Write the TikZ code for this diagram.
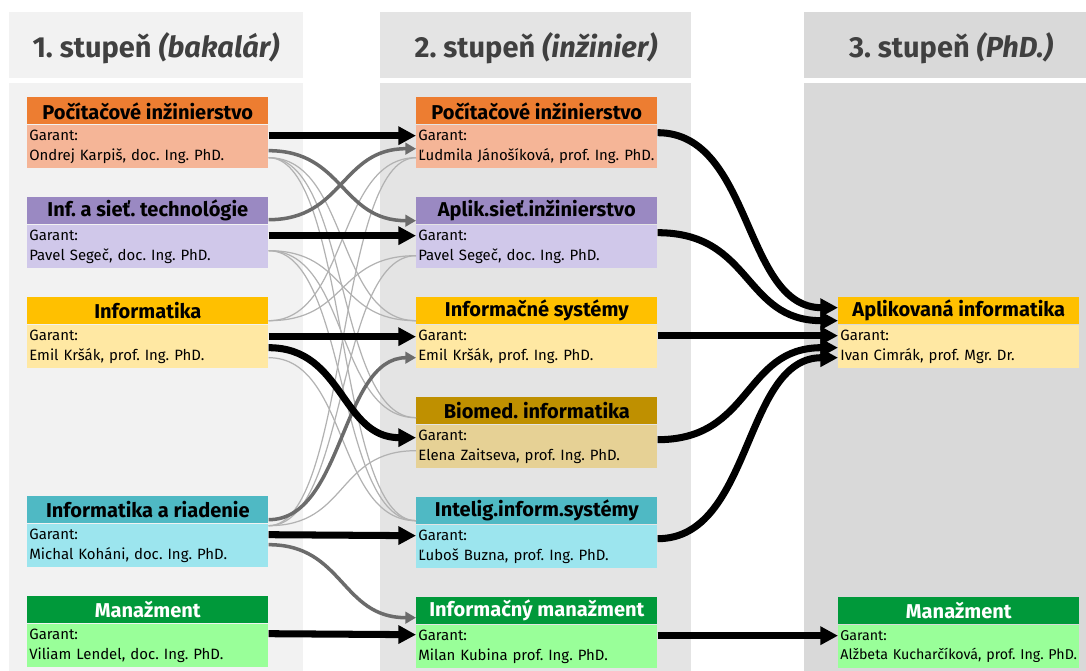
\documentclass[tikz,border=0pt]{standalone}
\usepackage{fontspec}
\setmainfont{Fira Sans}
\frenchspacing
\usetikzlibrary{arrows.meta, positioning, calc}

\definecolor{colA}{HTML}{F2F2F2}
\definecolor{colB}{HTML}{E4E4E4}
\definecolor{colC}{HTML}{D9D9D9}
\definecolor{headgray}{HTML}{404040}
\definecolor{orangeH}{HTML}{ED7D31}
\definecolor{orangeB}{HTML}{F5B597}
\definecolor{purpleH}{HTML}{9A89C2}
\definecolor{purpleB}{HTML}{D0C8EA}
\definecolor{yellowH}{HTML}{FFC000}
\definecolor{yellowB}{HTML}{FFE8A3}
\definecolor{goldH}{HTML}{BF9000}
\definecolor{goldB}{HTML}{E6D195}
\definecolor{tealH}{HTML}{4FB9C4}
\definecolor{tealB}{HTML}{9CE5EE}
\definecolor{greenH}{HTML}{00993A}
\definecolor{greenB}{HTML}{99FF99}

\begin{document}
\begin{tikzpicture}[x=0.02cm, y=-0.02cm,
            colhead/.style={font=\fontsize{16.5}{19}\selectfont\bfseries, text=headgray},
            head/.style={anchor=north west, minimum width=4.82cm, minimum height=0.54cm, inner sep=0pt, font=\fontsize{11.4}{13}\selectfont\bfseries},
            body/.style={minimum height=0.86cm, text width=4.74cm, inner xsep=0.04cm, inner ysep=0pt, align=left, font=\fontsize{8.5}{11.3}\selectfont},
            heavy/.style={line width=4pt, -{Triangle[length=10pt,width=10pt]}},
            mid/.style={line width=2pt, draw=black!58, -{Triangle[length=6pt,width=6.5pt]}},
            thin/.style={line width=0.7pt, draw=black!30}]

            \useasboundingbox (0,0) rectangle (1086,671);

            % Column backgrounds
            \fill[colA] (9,12) rectangle (303,78);
            \fill[colA] (9,83) rectangle (303,671);
            \fill[colB] (380,12) rectangle (691,78);
            \fill[colB] (380,83) rectangle (691,671);
            \fill[colC] (804,12) rectangle (1086,78);
            \fill[colC] (804,83) rectangle (1086,671);

            \node[colhead] (c1) at (156,48) {1. stupeň \textit{(bakalár)}};
            \node[colhead] (c2) at (536,48) {2. stupeň \textit{(inžinier)}};
            \node[colhead] (c3) at (951,48) {3. stupeň \textit{(PhD.)}};

            % 1. stupen
            \node[head, fill=orangeH] (s1h) at (27,97) {Počítačové inžinierstvo};
            \node[body, fill=orangeB, below=0pt of s1h] (s1b) {Garant:\\Ondrej Karpiš, doc. Ing. PhD.};
            \node[head, fill=purpleH] (s2h) at (27,197) {Inf. a sieť. technológie};
            \node[body, fill=purpleB, below=0pt of s2h] (s2b) {Garant:\\Pavel Segeč, doc. Ing. PhD.};
            \node[head, fill=yellowH] (s3h) at (27,297) {Informatika};
            \node[body, fill=yellowB, below=0pt of s3h] (s3b) {Garant:\\Emil Kršák, prof. Ing. PhD.};
            \node[head, fill=tealH] (s4h) at (27,496) {Informatika a riadenie};
            \node[body, fill=tealB, below=0pt of s4h] (s4b) {Garant:\\Michal Koháni, doc. Ing. PhD.};
            \node[head, fill=greenH, text=white] (s5h) at (27,596) {Manažment};
            \node[body, fill=greenB, below=0pt of s5h] (s5b) {Garant:\\Viliam Lendel, doc. Ing. PhD.};

            % 2. stupen
            \node[head, fill=orangeH] (t1h) at (416,97) {Počítačové inžinierstvo};
            \node[body, fill=orangeB, below=0pt of t1h] (t1b) {Garant:\\Ľudmila Jánošíková, prof. Ing. PhD.};
            \node[head, fill=purpleH] (t2h) at (416,197) {Aplik.sieť.inžinierstvo};
            \node[body, fill=purpleB, below=0pt of t2h] (t2b) {Garant:\\Pavel Segeč, doc. Ing. PhD.};
            \node[head, fill=yellowH] (t3h) at (416,297) {Informačné systémy};
            \node[body, fill=yellowB, below=0pt of t3h] (t3b) {Garant:\\Emil Kršák, prof. Ing. PhD.};
            \node[head, fill=goldH] (t4h) at (416,397) {Biomed. informatika};
            \node[body, fill=goldB, below=0pt of t4h] (t4b) {Garant:\\Elena Zaitseva, prof. Ing. PhD.};
            \node[head, fill=tealH] (t5h) at (416,497) {Intelig.inform.systémy};
            \node[body, fill=tealB, below=0pt of t5h] (t5b) {Garant:\\Ľuboš Buzna, prof. Ing. PhD.};
            \node[head, fill=greenH, text=white] (t6h) at (416,597) {Informačný manažment};
            \node[body, fill=greenB, below=0pt of t6h] (t6b) {Garant:\\Milan Kubina prof. Ing. PhD.};

            % 3. stupen
            \node[head, fill=yellowH] (p1h) at (838,297) {Aplikovaná informatika};
            \node[body, fill=yellowB, below=0pt of p1h] (p1b) {Garant:\\Ivan Cimrák, prof. Mgr. Dr.};
            \node[head, fill=greenH, text=white] (p2h) at (838,597) {Manažment};
            \node[body, fill=greenB, font=\fontsize{8.1}{11.3}\selectfont, below=0pt of p2h] (p2b) {Garant:\\Alžbeta Kucharčíková, prof. Ing. PhD.};

            % Other possible transitions
            \draw[thin] ($(s1b.north east)+(0,33)$) .. controls +(80,0) and +(-80,0) .. ($(t3b.north west)+(0,-4)$);
            \draw[thin] ($(s1b.north east)+(0,33)$) .. controls +(80,0) and +(-80,0) .. ($(t4b.north west)+(0,-7)$);
            \draw[thin] ($(s1b.north east)+(0,33)$) .. controls +(80,0) and +(-80,0) .. ($(t5b.north west)+(0,-4)$);
            \draw[thin] ($(s2b.north east)+(0,26)$) .. controls +(80,0) and +(-80,0) .. ($(t3b.north west)+(0,-4)$);
            \draw[thin] ($(s2b.north east)+(0,26)$) .. controls +(80,0) and +(-80,0) .. ($(t4b.north west)+(0,-7)$);
            \draw[thin] ($(s2b.north east)+(0,26)$) .. controls +(80,0) and +(-80,0) .. ($(t5b.north west)+(0,-4)$);
            \draw[thin] ($(s3b.north east)+(0,-4)$) .. controls +(80,0) and +(-80,0) .. ($(t1b.north west)+(0,33)$);
            \draw[thin] ($(s3b.north east)+(0,-4)$) .. controls +(80,0) and +(-80,0) .. ($(t2b.north west)+(0,31)$);
            \draw[thin] ($(s3b.north east)+(0,33)$) .. controls +(80,0) and +(-80,0) .. ($(t5b.north west)+(0,-4)$);
            \draw[thin] ($(s4b.north east)+(0,2)$) .. controls +(80,0) and +(-80,0) .. ($(t1b.north west)+(0,33)$);
            \draw[thin] ($(s4b.north east)+(0,2)$) .. controls +(80,0) and +(-80,0) .. ($(t2b.north west)+(0,31)$);
            \draw[thin] ($(s4b.north east)+(0,2)$) .. controls +(80,0) and +(-80,0) .. ($(t4b.north west)+(0,26)$);

            % Secondary transitions
            \draw[mid] ($(s1b.north east)+(0,26)$) .. controls +(75,0) and +(-75,0) .. ($(t2b.north west)+(0,-4)$);
            \draw[mid] ($(s2b.north east)+(0,-5)$) .. controls +(75,0) and +(-75,0) .. ($(t1b.north west)+(0,24)$);
            \draw[mid] ($(s4b.north east)+(0,-4)$) .. controls +(75,0) and +(-75,0) .. ($(t3b.north west)+(0,33)$);
            \draw[mid] ($(s4b.north east)+(0,21)$) .. controls +(75,0) and +(-75,0) .. ($(t6b.north west)+(0,-7)$);

            % Main transitions
            \draw[heavy] ($(s1b.north east)+(0,11)$) -- ($(t1b.north west)+(0,11)$);
            \draw[heavy] ($(s2b.north east)+(0,11)$) -- ($(t2b.north west)+(0,11)$);
            \draw[heavy] ($(s3b.north east)+(0,12)$) -- ($(t3b.north west)+(0,12)$);
            \draw[heavy] ($(s3b.north east)+(0,23)$) .. controls +(75,0) and +(-75,0) .. ($(t4b.north west)+(0,13)$);
            \draw[heavy] ($(s4b.north east)+(0,11)$) -- ($(t5b.north west)+(0,11)$);
            \draw[heavy] ($(s5b.north east)+(0,10)$) -- ($(t6b.north west)+(0,10)$);

            % Into PhD
            \draw[heavy] ($(t1b.north east)+(0,8)$) .. controls +(95,0) and +(-95,0) .. ($(p1b.north west)+(0,-17)$);
            \draw[heavy] ($(t2b.north east)+(0,8)$) .. controls +(95,0) and +(-95,0) .. ($(p1b.north west)+(0,-4)$);
            \draw[heavy] ($(t3b.north east)+(0,11)$) -- ($(p1b.north west)+(0,11)$);
            \draw[heavy] ($(t4b.north east)+(0,15)$) .. controls +(95,0) and +(-95,0) .. ($(p1b.north west)+(0,23)$);
            \draw[heavy] ($(t5b.north east)+(0,14)$) .. controls +(95,0) and +(-95,0) .. ($(p1b.north west)+(0,33)$);
            \draw[heavy] ($(t6b.north east)+(0,11)$) -- ($(p2b.north west)+(0,11)$);
        \end{tikzpicture}
\end{document}
